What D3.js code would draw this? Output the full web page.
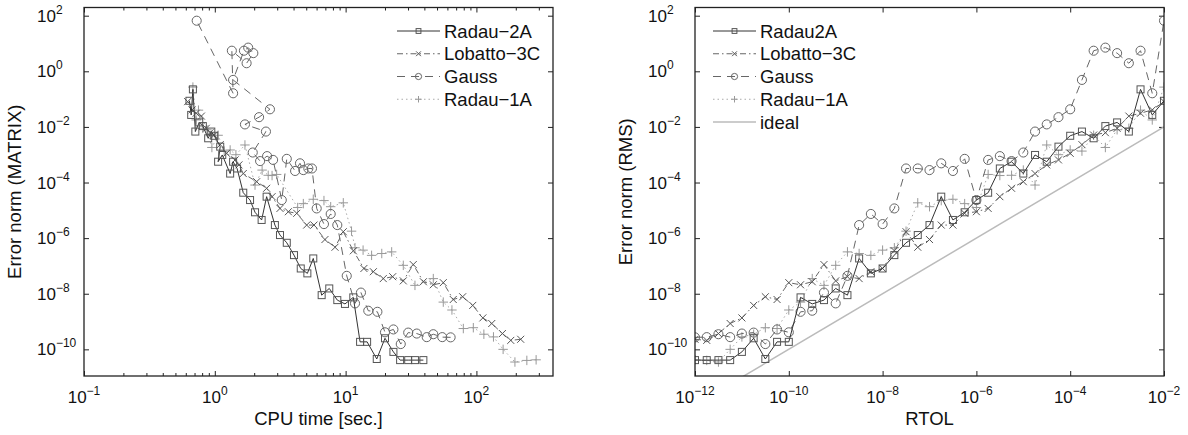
<!DOCTYPE html>
<html>
<head>
<meta charset="utf-8">
<script src="https://cdnjs.cloudflare.com/ajax/libs/d3/7.8.5/d3.min.js"></script>
<style>
  body { margin: 0; background: #fff; }
  text { font-family: "Liberation Sans", Arial, sans-serif; fill: #111; }
</style>
</head>
<body>
<svg id="chart" width="1188" height="435"></svg>
<script>
// tolerance values used for every run (right panel x)
const rtol = [1e-12, 1.78e-12, 3.16e-12, 5.62e-12, 1e-11, 1.78e-11, 3.16e-11, 5.62e-11,
  1e-10, 1.78e-10, 3.16e-10, 5.62e-10, 1e-9, 1.78e-9, 3.16e-9, 5.62e-9,
  1e-8, 1.78e-8, 3.16e-8, 5.62e-8, 1e-7, 1.78e-7, 3.16e-7, 5.62e-7,
  1e-6, 1.78e-6, 3.16e-6, 5.62e-6, 1e-5, 1.78e-5, 3.16e-5, 5.62e-5,
  1e-4, 1.78e-4, 3.16e-4, 5.62e-4, 1e-3, 1.78e-3, 3.16e-3, 5.62e-3, 1e-2];

// CPU time [sec.] per run (left panel x)
const radau2aCpu = [39.3, 33.9, 30.1, 26.1, 23.2, 20.0, 17.3, 14.6, 12.9, 11.45, 9.89, 8.64, 7.50, 6.56,
  5.66, 5.10, 4.54, 4.03, 3.55, 3.15, 2.88, 2.49, 2.28, 2.03, 1.86, 1.65, 1.48, 1.38, 1.31, 1.14,
  1.06, 1.10, 0.99, 0.94, 0.89, 0.81, 0.76, 0.71, 0.68, 0.66, 0.64];
const lobattoCpu = [218, 183, 158, 131, 112, 93.7, 78.5, 66.5, 55.8, 46.8, 39.3, 32.9, 27.6, 22.9,
  19.4, 16.3, 13.8, 11.46, 9.60, 8.30, 6.95, 5.73, 5.04, 4.23, 3.65, 3.15, 2.74, 2.49, 2.09, 1.65,
  1.53, 1.43, 1.23, 1.10, 0.99, 0.92, 0.86, 0.79, 0.72, 0.67, 0.62];
const gaussCpu = [63.5, 54.8, 46.8, 41.7, 35.0, 30.1, 26.4, 23.2, 20.0, 17.5, 14.9, 13.1, 11.8, 10.2,
  8.64, 7.69, 6.83, 6.01, 5.53, 5.19, 4.75, 4.48, 4.11, 3.55, 3.25, 2.79, 2.51, 2.22, 1.95, 2.46,
  1.70, 2.18, 2.64, 1.38, 1.67, 1.80, 1.97, 1.75, 1.35, 1.38, 0.727];
const radau1aCpu = [286, 243, 197, 160, 135, 114, 94.7, 79.4, 65.0, 55.8, 46.8, 33.9, 27.6, 22.5,
  18.9, 15.8, 13.6, 11.8, 11.1, 9.6, 7.69, 6.83, 5.66, 4.75, 4.3, 2.97, 2.74, 2.56, 2.30, 2.03,
  1.70, 1.45, 1.31, 1.18, 1.06, 0.95, 0.87, 0.81, 0.75, 0.72, 0.68];

// error norm per run (same values on both panels)
const radau2aErr = [4.1e-11, 4.1e-11, 4.1e-11, 4.1e-11, 8.1e-11, 2.5e-10, 4.5e-11, 1.86e-10, 1.86e-10,
  7.4e-9, 4.3e-9, 5.9e-9, 1.55e-8, 8.9e-9, 1.86e-7, 5.4e-8, 8.1e-8, 2.45e-7, 6.8e-7, 1.29e-6,
  2.95e-6, 3.1e-5, 4.5e-6, 8.5e-6, 2.34e-5, 4.3e-5, 3.2e-4, 5.6e-4, 2.1e-4, 9.8e-4,
  5.6e-4, 1.95e-3, 4.8e-3, 6.8e-3, 3.9e-3, 1.07e-2, 1.45e-2, 6.8e-3, 0.224, 2.7e-2, 8.7e-2];
const lobattoErr = [2.3e-10, 2.1e-10, 3.7e-10, 8.5e-10, 1.35e-9, 3.8e-9, 7.8e-9, 6.2e-9, 2.5e-8, 2.1e-8,
  2.7e-8, 1.12e-7, 2.9e-8, 4.1e-8, 3.5e-8, 6.2e-8, 8.1e-8, 3.5e-7, 1.7e-6, 4.7e-7,
  8.9e-7, 2.95e-6, 2.95e-6, 7.8e-6, 8.9e-6, 1.17e-5, 3.1e-5, 6.2e-5, 1.07e-4, 2.1e-4,
  4.3e-4, 6.5e-4, 1.12e-3, 2.3e-3, 5.1e-3, 6.2e-3, 8.9e-3, 2.45e-2, 3.1e-2, 4.1e-2, 8.1e-2];
const gaussErr = [2.7e-10, 2.75e-10, 3.5e-10, 2.75e-10, 3.7e-10, 4.0e-10, 1.55e-10, 5.2e-10, 4.1e-10, 2.24e-9,
  2.45e-9, 1.1e-8, 4.5e-9, 4.4e-8, 2.95e-6, 7.4e-6, 3.2e-6, 1.17e-5, 3.2e-4, 3.2e-4,
  2.8e-4, 4.9e-4, 2.6e-4, 7.1e-4, 2.34e-5, 6.5e-4, 8.9e-4, 5.9e-4, 1.2e-3, 6.8e-3,
  1.23e-2, 2.24e-2, 4.3e-2, 0.49, 5.5, 7.1, 4.5, 1.95, 5.5, 0.162, 66];
const radau1aErr = [4.2e-11, 4.0e-11, 3.5e-11, 1.0e-10, 2.8e-10, 3.5e-10, 6.0e-10, 5.6e-10, 2.6e-9, 5.0e-9,
  3.5e-8, 2.0e-8, 1.05e-7, 3.2e-7, 2.8e-7, 2.4e-7, 3.7e-7, 4.5e-7, 1.78e-6, 1.86e-5,
  1.35e-5, 2.24e-5, 2.5e-5, 1.74e-5, 1.26e-5, 1.95e-4, 1.78e-4, 1.82e-4, 2.8e-4, 8.1e-5,
  2.24e-3, 1.0e-3, 1.48e-3, 1.35e-3, 5.0e-3, 1.82e-3, 7.9e-3, 8.9e-3, 4.0e-2, 1.78e-2, 0.27];

// ideal line: error == RTOL
const idealX = [1e-12, 1e-2];
const idealY = [1e-12, 1e-2];

// axis ticks (powers of ten)
const leftXTickExp = [-1, 0, 1, 2];
const rightXTickExp = [-12, -10, -8, -6, -4, -2];
const yTickExp = [2, 0, -2, -4, -6, -8, -10];

const svg = d3.select('#chart');

const series = [
  { name: 'Radau\u22122A', cpu: radau2aCpu, err: radau2aErr, color: '#333', mcolor: '#555', marker: 'square', dash: null },
  { name: 'Lobatto\u22123C', cpu: lobattoCpu, err: lobattoErr, color: '#666', mcolor: '#555', marker: 'cross', dash: '6,3,1.5,3' },
  { name: 'Gauss', cpu: gaussCpu, err: gaussErr, color: '#666', mcolor: '#666', marker: 'circle', dash: '8,6' },
  { name: 'Radau\u22121A', cpu: radau1aCpu, err: radau1aErr, color: '#aaa', mcolor: '#999', marker: 'plus', dash: '1.5,3' }
];

function drawMarker(g, type, cx, cy, s, color) {
  if (type === 'square') {
    g.append('rect').attr('x', cx - s).attr('y', cy - s).attr('width', 2 * s).attr('height', 2 * s)
      .attr('fill', 'none').attr('stroke', color).attr('stroke-width', 1);
  } else if (type === 'circle') {
    g.append('circle').attr('cx', cx).attr('cy', cy).attr('r', s * 1.3)
      .attr('fill', 'none').attr('stroke', color).attr('stroke-width', 1);
  } else if (type === 'cross') {
    g.append('path').attr('d', `M${cx - s},${cy - s}L${cx + s},${cy + s}M${cx - s},${cy + s}L${cx + s},${cy - s}`)
      .attr('stroke', color).attr('stroke-width', 1);
  } else if (type === 'plus') {
    const p = s * 1.35;
    g.append('path').attr('d', `M${cx - p},${cy}L${cx + p},${cy}M${cx},${cy - p}L${cx},${cy + p}`)
      .attr('stroke', color).attr('stroke-width', 1);
  }
}

function powLabel(g, x, y, exp, anchor) {
  const t = g.append('text').attr('x', x).attr('y', y).attr('text-anchor', anchor)
    .style('font-size', '17px');
  t.append('tspan').text('10');
  t.append('tspan').attr('dy', -8).style('font-size', '12px')
    .text(exp < 0 ? '\u2212' + (-exp) : String(exp));
}

function drawPanel(opts) {
  const { x0, x1, y0, y1 } = opts;
  const x = d3.scaleLog().domain(opts.xDomain).range([x0, x1]);
  const y = d3.scaleLog().domain([1.1e-11, 197]).range([y1, y0]);
  const g = svg.append('g');

  const clipId = 'clip' + opts.id;
  svg.append('clipPath').attr('id', clipId).append('rect')
    .attr('x', x0).attr('y', y0).attr('width', x1 - x0).attr('height', y1 - y0);

  // ticks, inward on all four sides
  const xMajor = opts.xTickExp.map(e => Math.pow(10, e));
  const yMajor = yTickExp.map(e => Math.pow(10, e));
  const addAxis = (axis, tf) => g.append('g').attr('transform', tf)
    .call(axis.tickFormat('').tickSizeOuter(0))
    .call(a => a.select('.domain').remove())
    .call(a => a.selectAll('line').attr('stroke', '#222'));
  addAxis(d3.axisBottom(x).tickValues(xMajor).tickSize(-5), `translate(0,${y1})`);
  addAxis(d3.axisTop(x).tickValues(xMajor).tickSize(-5), `translate(0,${y0})`);
  if (opts.xMinor) {
    addAxis(d3.axisBottom(x).tickValues(opts.xMinor).tickSize(-3), `translate(0,${y1})`);
    addAxis(d3.axisTop(x).tickValues(opts.xMinor).tickSize(-3), `translate(0,${y0})`);
  }
  addAxis(d3.axisLeft(y).tickValues(yMajor).tickSize(-5), `translate(${x0},0)`);
  addAxis(d3.axisRight(y).tickValues(yMajor).tickSize(-5), `translate(${x1},0)`);

  // tick labels
  opts.xTickExp.forEach(e => powLabel(g, x(Math.pow(10, e)), 403, e, 'middle'));
  yTickExp.forEach(e => powLabel(g, x0 - 47, y(Math.pow(10, e)) + 6, e, 'start'));

  // axis titles
  g.append('text').attr('x', (x0 + x1) / 2).attr('y', 425).attr('text-anchor', 'middle')
    .style('font-size', '18.5px').text(opts.xTitle);
  g.append('text').attr('transform', `translate(${x0 - 63},${(y0 + y1) / 2}) rotate(-90)`)
    .attr('text-anchor', 'middle').style('font-size', '18.5px').text(opts.yTitle);

  const plot = g.append('g').attr('clip-path', `url(#${clipId})`);

  if (opts.ideal) {
    plot.append('path')
      .datum(idealX.map((v, i) => [v, idealY[i]]))
      .attr('d', d3.line().x(d => x(d[0])).y(d => y(d[1])))
      .attr('fill', 'none').attr('stroke', '#bbb').attr('stroke-width', 1.5);
  }

  // draw light series first so darker ones stay on top
  series.slice().reverse().forEach(s => {
    const pts = s.err.map((e, i) => [opts.xOf(s, i), e]);
    plot.append('path').datum(pts)
      .attr('d', d3.line().x(d => x(d[0])).y(d => y(d[1])))
      .attr('fill', 'none').attr('stroke', s.color).attr('stroke-width', 1)
      .attr('stroke-dasharray', s.dash);
    const mg = plot.append('g');
    pts.forEach(p => drawMarker(mg, s.marker, x(p[0]), y(p[1]), 3.5, s.mcolor));
  });

  // frame
  g.append('rect').attr('x', x0).attr('y', y0).attr('width', x1 - x0).attr('height', y1 - y0)
    .attr('fill', 'none').attr('stroke', '#222').attr('stroke-width', 1.3);

  // legend
  const items = opts.ideal ? series.concat([{ name: 'ideal', color: '#bbb', dash: null, marker: null, width: 1.5 }]) : series;
  items.forEach((s, i) => {
    const ly = 31 + i * 22.75;
    const name = (opts.id === 'R' && i === 0) ? 'Radau2A' : s.name;
    g.append('line').attr('x1', opts.legX).attr('x2', opts.legX + 43).attr('y1', ly).attr('y2', ly)
      .attr('stroke', s.color).attr('stroke-width', s.width || 1).attr('stroke-dasharray', s.dash);
    if (s.marker) drawMarker(g, s.marker, opts.legX + 21.5, ly, 2.4, s.mcolor);
    g.append('text').attr('x', opts.legX + 47).attr('y', ly + 6.5)
      .style('font-size', '18.5px').text(name);
  });
}

drawPanel({
  id: 'L', x0: 84, x1: 553, y0: 7.5, y1: 376,
  xDomain: [0.1, 385],
  xTickExp: leftXTickExp,
  xMinor: [0.2, 0.3, 0.4, 0.5, 0.6, 0.7, 0.8, 0.9, 2, 3, 4, 5, 6, 7, 8, 9,
    20, 30, 40, 50, 60, 70, 80, 90, 200, 300],
  xTitle: 'CPU time [sec.]', yTitle: 'Error norm (MATRIX)',
  xOf: (s, i) => s.cpu[i], ideal: false, legX: 397
});

drawPanel({
  id: 'R', x0: 695, x1: 1164, y0: 7.5, y1: 376,
  xDomain: [1e-12, 1e-2],
  xTickExp: rightXTickExp,
  xMinor: null,
  xTitle: 'RTOL', yTitle: 'Error norm (RMS)',
  xOf: (s, i) => rtol[i], ideal: true, legX: 713
});
</script>
</body>
</html>
